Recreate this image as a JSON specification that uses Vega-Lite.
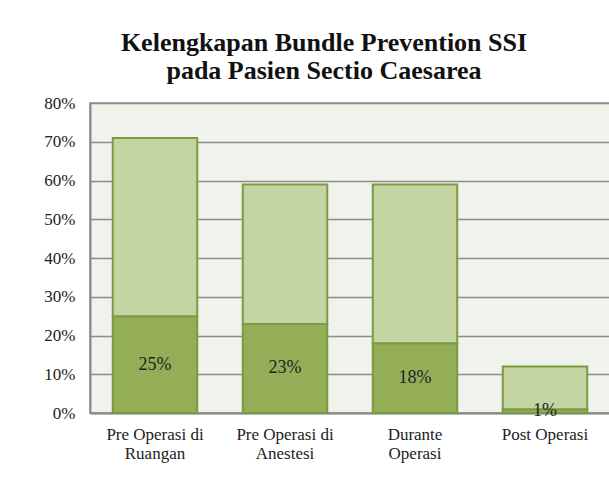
{
  "$schema": "https://vega.github.io/schema/vega-lite/v6.json",
  "autosize": "none",
  "width": 520,
  "height": 310,
  "padding": {"left": 90, "top": 103, "right": 0, "bottom": 84},
  "background": "white",
  "title": {
    "text": ["Kelengkapan Bundle Prevention SSI", "pada Pasien Sectio Caesarea"],
    "font": "Liberation Serif",
    "fontSize": 26,
    "fontWeight": "bold",
    "color": "#111111",
    "lineHeight": 28,
    "anchor": "middle",
    "dx": -26,
    "offset": 10
  },
  "config": {
    "view": {"fill": "#f0f2ec", "stroke": "#8c8c8c", "strokeWidth": 1.5}
  },
  "data": {
    "values": [
      {"tahap": "Pre Operasi di Ruangan", "status": "Lengkap", "urut": 1, "nilai": 0.25},
      {"tahap": "Pre Operasi di Ruangan", "status": "Tidak lengkap", "urut": 2, "nilai": 0.46},
      {"tahap": "Pre Operasi di Anestesi", "status": "Lengkap", "urut": 1, "nilai": 0.23},
      {"tahap": "Pre Operasi di Anestesi", "status": "Tidak lengkap", "urut": 2, "nilai": 0.36},
      {"tahap": "Durante Operasi", "status": "Lengkap", "urut": 1, "nilai": 0.18},
      {"tahap": "Durante Operasi", "status": "Tidak lengkap", "urut": 2, "nilai": 0.41},
      {"tahap": "Post Operasi", "status": "Lengkap", "urut": 1, "nilai": 0.01},
      {"tahap": "Post Operasi", "status": "Tidak lengkap", "urut": 2, "nilai": 0.11}
    ]
  },
  "encoding": {
    "x": {
      "field": "tahap",
      "type": "nominal",
      "sort": null,
      "scale": {"paddingInner": 0.35, "paddingOuter": 0.175},
      "axis": {
        "title": null,
        "labelAngle": 0,
        "labelFont": "Liberation Serif",
        "labelFontSize": 17,
        "labelColor": "#222222",
        "ticks": false,
        "domain": true,
        "domainColor": "#8c8c8c",
        "domainWidth": 2,
        "labelPadding": 13,
        "labelLineHeight": 19,
        "labelBaseline": "top",
        "labelExpr": "datum.value == 'Pre Operasi di Ruangan' ? ['Pre Operasi di', 'Ruangan'] : datum.value == 'Pre Operasi di Anestesi' ? ['Pre Operasi di', 'Anestesi'] : datum.value == 'Durante Operasi' ? ['Durante', 'Operasi'] : datum.value"
      }
    }
  },
  "layer": [
    {
      "mark": {"type": "bar", "stroke": "#7b9b42", "strokeWidth": 2},
      "encoding": {
        "y": {
          "field": "nilai",
          "type": "quantitative",
          "stack": "zero",
          "scale": {"domain": [0, 0.8]},
          "axis": {
            "title": null,
            "format": ".0%",
            "values": [0, 0.1, 0.2, 0.3, 0.4, 0.5, 0.6, 0.7, 0.8],
            "labelOverlap": false,
            "labelFont": "Liberation Serif",
            "labelFontSize": 17,
            "labelColor": "#222222",
            "ticks": false,
            "labelPadding": 15,
            "domainColor": "#8c8c8c",
            "domainWidth": 2,
            "grid": true,
            "gridColor": "#8c8c8c",
            "gridWidth": 1.5
          }
        },
        "color": {
          "field": "status",
          "type": "nominal",
          "scale": {"domain": ["Lengkap", "Tidak lengkap"], "range": ["#94ae58", "#c3d3a2"]},
          "legend": null
        },
        "order": {"field": "urut", "type": "quantitative"}
      }
    },
    {
      "transform": [{"filter": "datum.status == 'Lengkap'"}],
      "mark": {"type": "text", "font": "Liberation Serif", "fontSize": 18, "color": "#222222", "baseline": "middle"},
      "encoding": {
        "y": {
          "field": "nilai",
          "type": "quantitative",
          "scale": {"domain": [0, 1.6]},
          "axis": null
        },
        "text": {"field": "nilai", "type": "quantitative", "format": ".0%"}
      }
    }
  ],
  "resolve": {"scale": {"y": "independent"}}
}
